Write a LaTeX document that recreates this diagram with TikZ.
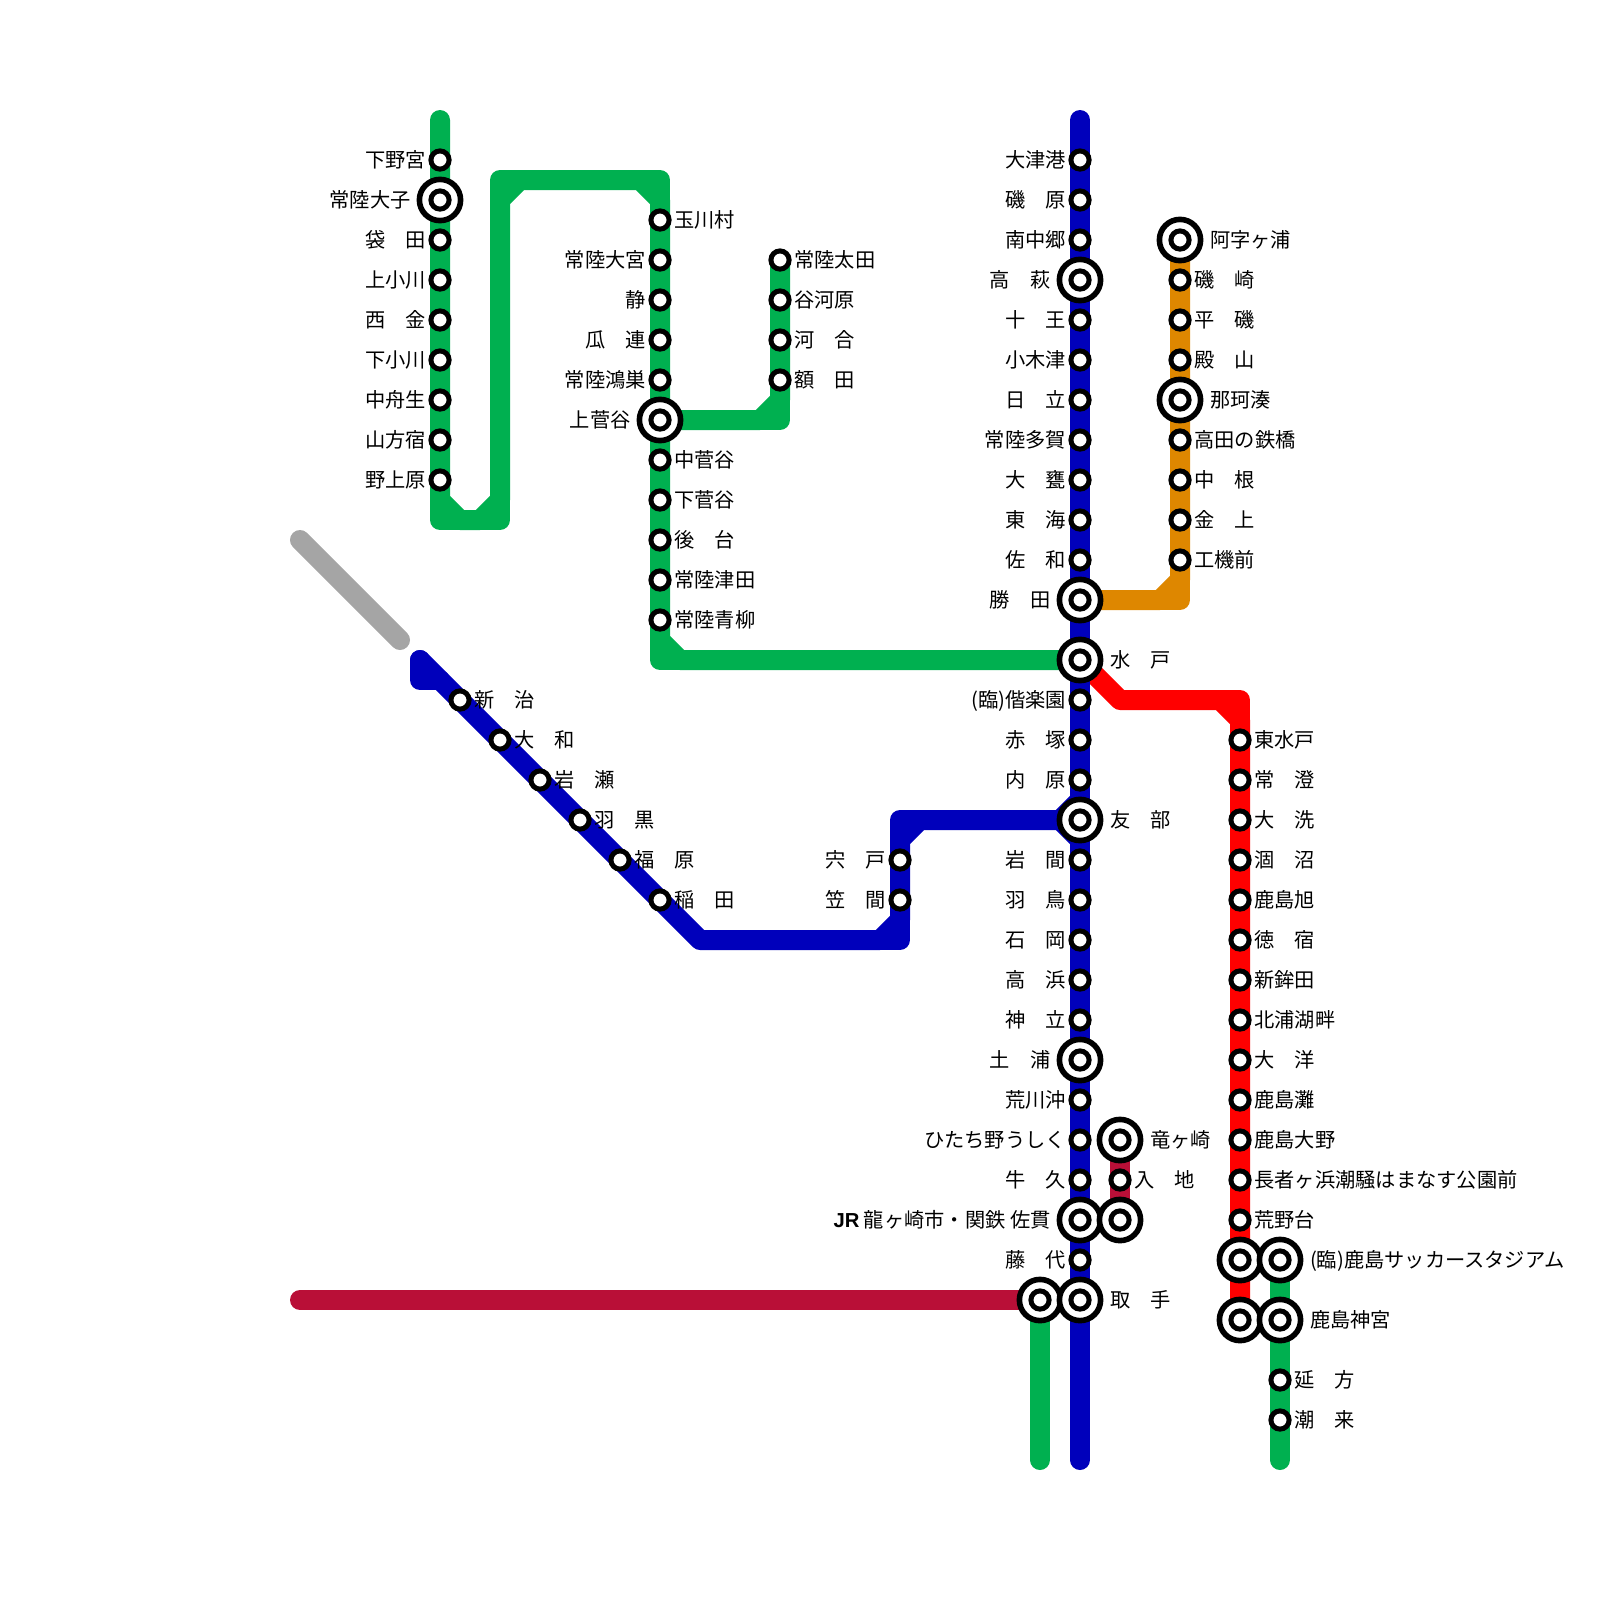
\documentclass[tikz,border=0pt]{standalone}
\usepackage{fontspec}
\usepackage{xcolor}
\usepackage{tikz}
\usetikzlibrary{backgrounds}
\setmainfont{Noto Sans CJK JP}
\newfontfamily\jrfont{Liberation Sans}
\definecolor{linegreen}{RGB}{0,176,80}
\definecolor{lineblue}{RGB}{0,0,187}
\definecolor{lineorange}{RGB}{222,135,0}
\definecolor{linered}{RGB}{255,0,0}
\definecolor{linecrimson}{RGB}{185,15,55}
\definecolor{linegray}{RGB}{165,165,165}

\begin{document}
\begin{tikzpicture}[
        railway/.style={line width=0.5cm,line cap=round,line join=round},
        greenrail/.style={railway,draw=linegreen},
        bluerail/.style={railway,draw=lineblue},
        orangerail/.style={railway,draw=lineorange},
        redrail/.style={railway,draw=linered},
        crimsonrail/.style={railway,draw=linecrimson},
        grayrail/.style={railway,draw=linegray},
        sta/.style={circle,draw,fill=white,line width=0.125cm,minimum size=0.455cm,inner sep=0pt},
        bigsta/.style={circle,draw,fill=white,line width=0.14cm,minimum size=1.03cm,inner sep=0pt},
        stname/.style={inner sep=0pt,text height=0.44cm,text depth=0.06cm,font=\fontsize{14.4}{17}\selectfont},
        nameL/.style={stname,xshift=-0.055cm},
        nameR/.style={stname,xshift=0.065cm},
        bignameL/.style={stname,xshift=-0.14cm},
        bignameR/.style={stname,xshift=0.16cm}
      ]
        \useasboundingbox (0,0) rectangle (40,-40);

        % Suifu line
        \node[sta,label={[nameL]left:下野宮}] (shimonomiya) at (11,-4) {};
        \node[bigsta,label={[bignameL]left:常陸大子}] (daigo) at (11,-5) {};
        \node[sta] (daigoC) at (daigo.center) {};
        \node[sta,label={[nameL]left:袋　田}] (fukuroda) at (11,-6) {};
        \node[sta,label={[nameL]left:上小川}] (kamiogawa) at (11,-7) {};
        \node[sta,label={[nameL]left:西　金}] (saigane) at (11,-8) {};
        \node[sta,label={[nameL]left:下小川}] (shimoogawa) at (11,-9) {};
        \node[sta,label={[nameL]left:中舟生}] (nakafunyu) at (11,-10) {};
        \node[sta,label={[nameL]left:山方宿}] (yamagata) at (11,-11) {};
        \node[sta,label={[nameL]left:野上原}] (noganbara) at (11,-12) {};

        \node[sta,label={[nameR]right:玉川村}] (tamagawa) at (16.5,-5.5) {};
        \node[sta,label={[nameL]left:常陸大宮}] (omiya) at (16.5,-6.5) {};
        \node[sta,label={[nameL]left:静}] (shizu) at (16.5,-7.5) {};
        \node[sta,label={[nameL]left:瓜　連}] (urizura) at (16.5,-8.5) {};
        \node[sta,label={[nameL]left:常陸鴻巣}] (konosu) at (16.5,-9.5) {};
        \node[bigsta,label={[bignameL]left:上菅谷}] (kamisugaya) at (16.5,-10.5) {};
        \node[sta] (kamisugayaC) at (kamisugaya.center) {};
        \node[sta,label={[nameR]right:中菅谷}] (nakasugaya) at (16.5,-11.5) {};
        \node[sta,label={[nameR]right:下菅谷}] (shimosugaya) at (16.5,-12.5) {};
        \node[sta,label={[nameR]right:後　台}] (godai) at (16.5,-13.5) {};
        \node[sta,label={[nameR]right:常陸津田}] (tsuda) at (16.5,-14.5) {};
        \node[sta,label={[nameR]right:常陸青柳}] (aoyagi) at (16.5,-15.5) {};

        \node[sta,label={[nameR]right:常陸太田}] (ota) at (19.5,-6.5) {};
        \node[sta,label={[nameR]right:谷河原}] (yagawara) at (19.5,-7.5) {};
        \node[sta,label={[nameR]right:河　合}] (kawai) at (19.5,-8.5) {};
        \node[sta,label={[nameR]right:額　田}] (nukata) at (19.5,-9.5) {};

        % Joban line
        \node[sta,label={[nameL]left:大津港}] (otsuko) at (27,-4) {};
        \node[sta,label={[nameL]left:磯　原}] (isohara) at (27,-5) {};
        \node[sta,label={[nameL]left:南中郷}] (minaminakago) at (27,-6) {};
        \node[bigsta,label={[bignameL]left:高　萩}] (takahagi) at (27,-7) {};
        \node[sta] (takahagiC) at (takahagi.center) {};
        \node[sta,label={[nameL]left:十　王}] (juo) at (27,-8) {};
        \node[sta,label={[nameL]left:小木津}] (ogitsu) at (27,-9) {};
        \node[sta,label={[nameL]left:日　立}] (hitachi) at (27,-10) {};
        \node[sta,label={[nameL]left:常陸多賀}] (taga) at (27,-11) {};
        \node[sta,label={[nameL]left:大　甕}] (omika) at (27,-12) {};
        \node[sta,label={[nameL]left:東　海}] (tokai) at (27,-13) {};
        \node[sta,label={[nameL]left:佐　和}] (sawa) at (27,-14) {};
        \node[bigsta,label={[bignameL]left:勝　田}] (katsuta) at (27,-15) {};
        \node[sta] (katsutaC) at (katsuta.center) {};
        \node[bigsta,label={[bignameR]right:水　戸}] (mito) at (27,-16.5) {};
        \node[sta] (mitoC) at (mito.center) {};
        \node[sta,label={[nameL]left:(臨)偕楽園}] (kairakuen) at (27,-17.5) {};
        \node[sta,label={[nameL]left:赤　塚}] (akatsuka) at (27,-18.5) {};
        \node[sta,label={[nameL]left:内　原}] (uchihara) at (27,-19.5) {};
        \node[bigsta,label={[bignameR]right:友　部}] (tomobe) at (27,-20.5) {};
        \node[sta] (tomobeC) at (tomobe.center) {};
        \node[sta,label={[nameL]left:岩　間}] (iwama) at (27,-21.5) {};
        \node[sta,label={[nameL]left:羽　鳥}] (hatori) at (27,-22.5) {};
        \node[sta,label={[nameL]left:石　岡}] (ishioka) at (27,-23.5) {};
        \node[sta,label={[nameL]left:高　浜}] (takahama) at (27,-24.5) {};
        \node[sta,label={[nameL]left:神　立}] (kandatsu) at (27,-25.5) {};
        \node[bigsta,label={[bignameL]left:土　浦}] (tsuchiura) at (27,-26.5) {};
        \node[sta] (tsuchiuraC) at (tsuchiura.center) {};
        \node[sta,label={[nameL]left:荒川沖}] (arakawaoki) at (27,-27.5) {};
        \node[sta,label={[nameL]left:ひたち野うしく}] (hitachino) at (27,-28.5) {};
        \node[sta,label={[nameL]left:牛　久}] (ushiku) at (27,-29.5) {};
        \node[bigsta,label={[bignameL]left:{\jrfont\bfseries JR} 龍ヶ崎市・関鉄 佐貫}] (sanuki) at (27,-30.5) {};
        \node[sta] (sanukiC) at (sanuki.center) {};
        \node[sta,label={[nameL]left:藤　代}] (fujishiro) at (27,-31.5) {};
        \node[bigsta] (toridewest) at (26,-32.5) {};
        \node[sta] (toridewestC) at (toridewest.center) {};
        \node[bigsta,label={[bignameR]right:取　手}] (toride) at (27,-32.5) {};
        \node[sta] (torideC) at (toride.center) {};

        % Mito line west of Tomobe
        \node[sta,label={[nameR]right:新　治}] (niiharu) at (11.5,-17.5) {};
        \node[sta,label={[nameR]right:大　和}] (yamato) at (12.5,-18.5) {};
        \node[sta,label={[nameR]right:岩　瀬}] (iwase) at (13.5,-19.5) {};
        \node[sta,label={[nameR]right:羽　黒}] (haguro) at (14.5,-20.5) {};
        \node[sta,label={[nameR]right:福　原}] (fukuhara) at (15.5,-21.5) {};
        \node[sta,label={[nameR]right:稲　田}] (inada) at (16.5,-22.5) {};
        \node[sta,label={[nameL]left:宍　戸}] (shishido) at (22.5,-21.5) {};
        \node[sta,label={[nameL]left:笠　間}] (kasama) at (22.5,-22.5) {};

        % Minato line
        \node[bigsta,label={[bignameR]right:阿字ヶ浦}] (ajigaura) at (29.5,-6) {};
        \node[sta] (ajigauraC) at (ajigaura.center) {};
        \node[sta,label={[nameR]right:磯　崎}] (isozaki) at (29.5,-7) {};
        \node[sta,label={[nameR]right:平　磯}] (hiraiso) at (29.5,-8) {};
        \node[sta,label={[nameR]right:殿　山}] (tonoyama) at (29.5,-9) {};
        \node[bigsta,label={[bignameR]right:那珂湊}] (nakaminato) at (29.5,-10) {};
        \node[sta] (nakaminatoC) at (nakaminato.center) {};
        \node[sta,label={[nameR]right:高田の鉄橋}] (takada) at (29.5,-11) {};
        \node[sta,label={[nameR]right:中　根}] (nakane) at (29.5,-12) {};
        \node[sta,label={[nameR]right:金　上}] (kaneage) at (29.5,-13) {};
        \node[sta,label={[nameR]right:工機前}] (kokimae) at (29.5,-14) {};

        % Oarai Kashima line
        \node[sta,label={[nameR]right:東水戸}] (higashimito) at (31,-18.5) {};
        \node[sta,label={[nameR]right:常　澄}] (tsunezumi) at (31,-19.5) {};
        \node[sta,label={[nameR]right:大　洗}] (oarai) at (31,-20.5) {};
        \node[sta,label={[nameR]right:涸　沼}] (hinuma) at (31,-21.5) {};
        \node[sta,label={[nameR]right:鹿島旭}] (asahi) at (31,-22.5) {};
        \node[sta,label={[nameR]right:徳　宿}] (tokushuku) at (31,-23.5) {};
        \node[sta,label={[nameR]right:新鉾田}] (hokota) at (31,-24.5) {};
        \node[sta,label={[nameR]right:北浦湖畔}] (kitaura) at (31,-25.5) {};
        \node[sta,label={[nameR]right:大　洋}] (taiyo) at (31,-26.5) {};
        \node[sta,label={[nameR]right:鹿島灘}] (kashimanada) at (31,-27.5) {};
        \node[sta,label={[nameR]right:鹿島大野}] (ono) at (31,-28.5) {};
        \node[sta,label={[nameR]right:長者ヶ浜潮騒はまなす公園前}] (choja) at (31,-29.5) {};
        \node[sta,label={[nameR]right:荒野台}] (kounodai) at (31,-30.5) {};
        \node[bigsta] (stadiumwest) at (31,-31.5) {};
        \node[sta] (stadiumwestC) at (stadiumwest.center) {};
        \node[bigsta,label={[bignameR]right:(臨)鹿島サッカースタジアム}] (stadium) at (32,-31.5) {};
        \node[sta] (stadiumC) at (stadium.center) {};
        \node[bigsta] (jinguwest) at (31,-33) {};
        \node[sta] (jinguwestC) at (jinguwest.center) {};
        \node[bigsta,label={[bignameR]right:鹿島神宮}] (jingu) at (32,-33) {};
        \node[sta] (jinguC) at (jingu.center) {};
        \node[sta,label={[nameR]right:延　方}] (nobukata) at (32,-34.5) {};
        \node[sta,label={[nameR]right:潮　来}] (itako) at (32,-35.5) {};

        % Ryugasaki line
        \node[bigsta,label={[bignameR]right:竜ヶ崎}] (ryugasaki) at (28,-28.5) {};
        \node[sta] (ryugasakiC) at (ryugasaki.center) {};
        \node[sta,label={[nameR]right:入　地}] (ireji) at (28,-29.5) {};
        \node[bigsta] (sanukieast) at (28,-30.5) {};
        \node[sta] (sanukieastC) at (sanukieast.center) {};

        % bends of the lines
        \coordinate (gTop) at (11,-3);
        \coordinate (g1) at (11,-12.5);
        \coordinate (g1c) at (11,-13);
        \coordinate (g2) at (11.5,-13);
        \coordinate (g3) at (12,-13);
        \coordinate (g3c) at (12.5,-13);
        \coordinate (g4) at (12.5,-12.5);
        \coordinate (g5) at (12.5,-5);
        \coordinate (g5c) at (12.5,-4.5);
        \coordinate (g6) at (13,-4.5);
        \coordinate (g7) at (16,-4.5);
        \coordinate (g7c) at (16.5,-4.5);
        \coordinate (g8) at (16.5,-5);
        \coordinate (g9) at (16.5,-16);
        \coordinate (g9c) at (16.5,-16.5);
        \coordinate (g10) at (17,-16.5);
        \coordinate (o1) at (19,-10.5);
        \coordinate (o1c) at (19.5,-10.5);
        \coordinate (o2) at (19.5,-10);
        \coordinate (bTop) at (27,-3);
        \coordinate (bEnd) at (27,-36.5);
        \coordinate (b1) at (10.5,-16.5);
        \coordinate (b1c) at (10.5,-17);
        \coordinate (b2) at (11,-17);
        \coordinate (b3) at (17.5,-23.5);
        \coordinate (b4) at (22,-23.5);
        \coordinate (b4c) at (22.5,-23.5);
        \coordinate (b5) at (22.5,-23);
        \coordinate (b6) at (22.5,-21);
        \coordinate (b6c) at (22.5,-20.5);
        \coordinate (b7) at (23,-20.5);
        \coordinate (b8) at (27,-20);
        \coordinate (b9) at (26.5,-20.5);
        \coordinate (b10) at (27,-21);
        \coordinate (y1) at (29.5,-14.5);
        \coordinate (y1c) at (29.5,-15);
        \coordinate (y2) at (29,-15);
        \coordinate (r1) at (28,-17.5);
        \coordinate (r2) at (30.5,-17.5);
        \coordinate (r2c) at (31,-17.5);
        \coordinate (r3) at (31,-18);
        \coordinate (gEast) at (26,-36.5);
        \coordinate (gKashima) at (32,-36.5);
        \coordinate (cWest) at (7.5,-32.5);
        \coordinate (grayA) at (7.5,-13.5);
        \coordinate (grayB) at (10,-16);

        \begin{scope}[on background layer]
          \draw[grayrail] (grayA) -- (grayB);
          \draw[redrail] (mito.center) -- (r1) -- (r2) -- (r3) -- (jinguwest.center);
          \draw[redrail] (r2) -- (r2c) -- (r3);
          \draw[greenrail] (gTop) -- (g1) -- (g2) -- (g3) -- (g4) -- (g5) -- (g6) -- (g7) -- (g8) -- (g9) -- (g10) -- (mito.center);
          \draw[greenrail] (g1) -- (g1c) -- (g2);
          \draw[greenrail] (g3) -- (g3c) -- (g4);
          \draw[greenrail] (g5) -- (g5c) -- (g6);
          \draw[greenrail] (g7) -- (g7c) -- (g8);
          \draw[greenrail] (g9) -- (g9c) -- (g10);
          \draw[greenrail] (kamisugaya.center) -- (o1) -- (o2) -- (ota.center);
          \draw[greenrail] (o1) -- (o1c) -- (o2);
          \draw[greenrail] (toridewest.center) -- (gEast);
          \draw[greenrail] (stadium.center) -- (gKashima);
          \draw[orangerail] (katsuta.center) -- (y2) -- (y1) -- (ajigaura.center);
          \draw[orangerail] (y2) -- (y1c) -- (y1);
          \draw[crimsonrail] (cWest) -- (toridewest.center);
          \draw[crimsonrail] (ryugasaki.center) -- (sanukieast.center);
          \draw[bluerail] (bTop) -- (bEnd);
          \draw[bluerail] (b1) -- (b3) -- (b4) -- (b5) -- (b6) -- (b7) -- (tomobe.center);
          \draw[bluerail] (b1) -- (b1c) -- (b2);
          \draw[bluerail] (b4) -- (b4c) -- (b5);
          \draw[bluerail] (b6) -- (b6c) -- (b7);
          \draw[bluerail] (b8) -- (b9) -- (b10);
        \end{scope}
      \end{tikzpicture}
\end{document}
